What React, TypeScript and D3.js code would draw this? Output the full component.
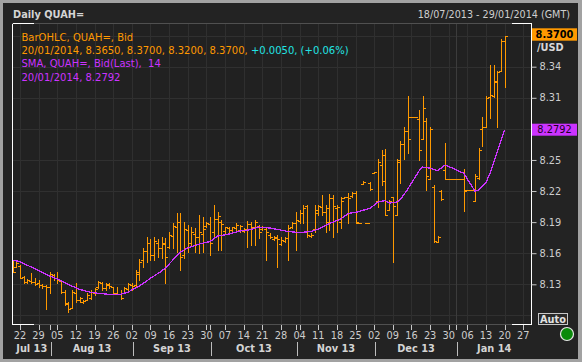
import { useEffect, useRef } from 'react';
import * as d3 from 'd3';

// trading calendar: 18/07/2013 - 29/01/2014 (weekdays)
const startDate = new Date(2013, 6, 18);
const endDate = new Date(2014, 0, 29);

const open = [
  8.1500, 8.1470, 8.1480, 8.1370, 8.1320, 8.1330, 8.1320, 8.1310, 8.1290, 8.1285,
  8.1270, 8.1390, 8.1360, 8.1330, 8.1230, 8.1110, 8.1070, 8.1220, 8.1150, 8.1130,
  8.1150, 8.1170, 8.1220, 8.1270, 8.1310, 8.1260, 8.1290, 8.1270, 8.1220, 8.1210,
  8.1220, 8.1250, 8.1290, 8.1290, 8.1400, 8.1530, 8.1620, 8.1700, 8.1580, 8.1700,
  8.1650, 8.1690, 8.1660, 8.1770, 8.1850, 8.1900, 8.1580, 8.1820, 8.1700, 8.1790,
  8.1760, 8.1790, 8.1860, 8.1880, 8.1800, 8.1930, 8.1900, 8.1810, 8.1840, 8.1820,
  8.1840, 8.1820, 8.1810, 8.1830, 8.1880, 8.1850, 8.1860, 8.1830, 8.1830, 8.1780,
  8.1740, 8.1760, 8.1690, 8.1720, 8.1750, 8.1850, 8.1890, 8.1910, 8.1990, 8.2060,
  8.1770, 8.1830, 8.1990, 8.2050, 8.2000, 8.1900, 8.2130, 8.2040, 8.1900, 8.2130,
  8.2140, 8.2150, 8.2180, 8.1894, 8.2270, 8.1894, 8.2280, 8.2375, 8.2100, 8.2450,
  8.2550, 8.2020, 8.2140, 8.1970, 8.2500, 8.2650, 8.2780, 8.2911, 8.2911, 8.2900,
  8.2700, 8.2880, 8.2320, 8.2240, 8.1711, 8.2200, 8.2400, 8.2313, 8.2313, 8.2313,
  8.2313, 8.2313, 8.2209, 8.2209, 8.2106, 8.2330, 8.2800, 8.2814, 8.3110, 8.3120,
  8.3250, 8.3358, 8.3650,
];

const high = [
  8.1527, 8.1518, 8.1483, 8.1380, 8.1348, 8.1406, 8.1364, 8.1341, 8.1300, 8.1290,
  8.1422, 8.1399, 8.1422, 8.1341, 8.1245, 8.1132, 8.1245, 8.1310, 8.1180, 8.1149,
  8.1213, 8.1245, 8.1261, 8.1332, 8.1325, 8.1309, 8.1309, 8.1276, 8.1276, 8.1245,
  8.1271, 8.1315, 8.1309, 8.1438, 8.1544, 8.1647, 8.1753, 8.1734, 8.1753, 8.1734,
  8.1759, 8.1743, 8.1807, 8.1888, 8.1990, 8.1990, 8.1903, 8.1872, 8.1855, 8.1840,
  8.1968, 8.1952, 8.1903, 8.1952, 8.2065, 8.2000, 8.1920, 8.1855, 8.1855, 8.1855,
  8.1888, 8.1872, 8.1840, 8.1910, 8.1903, 8.1920, 8.1872, 8.1862, 8.1840, 8.1792,
  8.1766, 8.1775, 8.1759, 8.1759, 8.1872, 8.1903, 8.2000, 8.2017, 8.2065, 8.2065,
  8.1792, 8.2065, 8.2065, 8.2161, 8.2065, 8.2168, 8.2161, 8.2065, 8.2145, 8.2145,
  8.2183, 8.2193, 8.2200, 8.1894, 8.2296, 8.1894, 8.2289, 8.2386, 8.2513, 8.2595,
  8.2602, 8.2113, 8.2145, 8.2506, 8.2685, 8.2814, 8.3116, 8.2911, 8.2911, 8.2981,
  8.3116, 8.2901, 8.2820, 8.2258, 8.1766, 8.2209, 8.2660, 8.2313, 8.2313, 8.2313,
  8.2313, 8.2409, 8.2209, 8.2209, 8.2361, 8.2612, 8.2911, 8.3116, 8.3415, 8.3415,
  8.3358, 8.3666, 8.3700,
];

const low = [
  8.1415, 8.1464, 8.1358, 8.1315, 8.1315, 8.1310, 8.1293, 8.1277, 8.1267, 8.1059,
  8.1213, 8.1341, 8.1310, 8.1213, 8.1100, 8.1036, 8.1068, 8.1132, 8.1132, 8.1117,
  8.1149, 8.1158, 8.1197, 8.1261, 8.1245, 8.1245, 8.1261, 8.1203, 8.1203, 8.1158,
  8.1213, 8.1228, 8.1245, 8.1277, 8.1341, 8.1469, 8.1518, 8.1534, 8.1534, 8.1560,
  8.1550, 8.1309, 8.1647, 8.1647, 8.1614, 8.1438, 8.1550, 8.1614, 8.1669, 8.1614,
  8.1605, 8.1614, 8.1855, 8.1582, 8.1759, 8.1631, 8.1631, 8.1792, 8.1807, 8.1807,
  8.1814, 8.1807, 8.1807, 8.1662, 8.1679, 8.1679, 8.1743, 8.1824, 8.1534, 8.1743,
  8.1727, 8.1469, 8.1679, 8.1711, 8.1534, 8.1840, 8.1631, 8.1888, 8.1888, 8.1759,
  8.1759, 8.1807, 8.1968, 8.1968, 8.1807, 8.1823, 8.1759, 8.1807, 8.1840, 8.2129,
  8.1894, 8.2145, 8.1894, 8.1894, 8.2267, 8.1894, 8.2209, 8.2370, 8.2045, 8.2258,
  8.1968, 8.2017, 8.1515, 8.1968, 8.2274, 8.2506, 8.2563, 8.2911, 8.2911, 8.2499,
  8.2708, 8.2209, 8.2313, 8.1711, 8.1711, 8.2113, 8.2313, 8.2313, 8.2313, 8.2313,
  8.2313, 8.2010, 8.2209, 8.2209, 8.2106, 8.2313, 8.2637, 8.2814, 8.2907, 8.3110,
  8.2814, 8.3358, 8.3200,
];

const close = [
  8.1420, 8.1510, 8.1365, 8.1320, 8.1340, 8.1320, 8.1300, 8.1290, 8.1280, 8.1270,
  8.1400, 8.1360, 8.1340, 8.1230, 8.1120, 8.1060, 8.1230, 8.1150, 8.1170, 8.1140,
  8.1200, 8.1230, 8.1250, 8.1320, 8.1260, 8.1300, 8.1280, 8.1220, 8.1210, 8.1170,
  8.1260, 8.1300, 8.1280, 8.1420, 8.1520, 8.1620, 8.1700, 8.1580, 8.1720, 8.1650,
  8.1700, 8.1560, 8.1780, 8.1860, 8.1900, 8.1560, 8.1830, 8.1700, 8.1800, 8.1760,
  8.1800, 8.1830, 8.1890, 8.1700, 8.1930, 8.1960, 8.1880, 8.1850, 8.1820, 8.1850,
  8.1870, 8.1860, 8.1830, 8.1880, 8.1850, 8.1900, 8.1800, 8.1850, 8.1800, 8.1760,
  8.1750, 8.1740, 8.1730, 8.1750, 8.1840, 8.1890, 8.1920, 8.1990, 8.2040, 8.1780,
  8.1780, 8.2020, 8.2060, 8.2000, 8.2040, 8.2130, 8.2060, 8.2050, 8.2100, 8.2140,
  8.2130, 8.2180, 8.1900, 8.1894, 8.2290, 8.1894, 8.2220, 8.2385, 8.2480, 8.2300,
  8.1970, 8.2100, 8.2060, 8.2480, 8.2650, 8.2780, 8.2700, 8.2911, 8.2911, 8.2600,
  8.3000, 8.2350, 8.2800, 8.1720, 8.1760, 8.2120, 8.2313, 8.2313, 8.2313, 8.2313,
  8.2313, 8.2200, 8.2209, 8.2209, 8.2350, 8.2600, 8.2814, 8.3100, 8.3130, 8.3260,
  8.3350, 8.3650, 8.3700,
];

// SMA(14) of the close, as drawn
const sma = [
  8.1534, 8.1526, 8.1518, 8.1500, 8.1484, 8.1467, 8.1450, 8.1433, 8.1415, 8.1397,
  8.1380, 8.1365, 8.1351, 8.1336, 8.1317, 8.1298, 8.1282, 8.1267, 8.1251, 8.1242,
  8.1232, 8.1222, 8.1218, 8.1213, 8.1210, 8.1206, 8.1203, 8.1203, 8.1203, 8.1203,
  8.1214, 8.1225, 8.1245, 8.1264, 8.1283, 8.1308, 8.1332, 8.1358, 8.1381, 8.1405,
  8.1428, 8.1457, 8.1496, 8.1534, 8.1573, 8.1611, 8.1631, 8.1650, 8.1662, 8.1676,
  8.1688, 8.1696, 8.1705, 8.1713, 8.1739, 8.1766, 8.1772, 8.1778, 8.1785, 8.1795,
  8.1804, 8.1814, 8.1819, 8.1823, 8.1828, 8.1840, 8.1852, 8.1849, 8.1846, 8.1843,
  8.1836, 8.1830, 8.1823, 8.1816, 8.1809, 8.1806, 8.1802, 8.1799, 8.1802, 8.1806,
  8.1809, 8.1821, 8.1833, 8.1850, 8.1869, 8.1886, 8.1901, 8.1915, 8.1930, 8.1956,
  8.1983, 8.1989, 8.1995, 8.2002, 8.2014, 8.2024, 8.2036, 8.2065, 8.2094, 8.2101,
  8.2108, 8.2084, 8.2089, 8.2094, 8.2118, 8.2168, 8.2219, 8.2277, 8.2335, 8.2393,
  8.2431, 8.2426, 8.2421, 8.2409, 8.2397, 8.2423, 8.2450, 8.2436, 8.2421, 8.2403,
  8.2386, 8.2373, 8.2315, 8.2258, 8.2200, 8.2209, 8.2248, 8.2286, 8.2364, 8.2470,
  8.2576, 8.2684, 8.2792,
];

const gridTicks = [8.10, 8.13, 8.16, 8.19, 8.22, 8.25, 8.28, 8.31, 8.34, 8.37];
const labelTicks = [8.13, 8.16, 8.19, 8.22, 8.25, 8.31, 8.34];
const monthLabels = ['Jul 13', 'Aug 13', 'Sep 13', 'Oct 13', 'Nov 13', 'Dec 13', 'Jan 14'];

const FONT = '"DejaVu Sans", Verdana, sans-serif';
const ORANGE = '#ff9900';
const PURPLE = '#cc33ff';

export default function App() {
  const svgRef = useRef<SVGSVGElement>(null);

  useEffect(() => {
    if (!svgRef.current) return;
    const svg = d3.select(svgRef.current);
    svg.selectAll('*').remove();

    const W = 582, H = 362;
    const left = 12.5, right = 531.5, top = 23.5, bottom = 324.5;

    const days = d3.timeDay
      .range(startDate, d3.timeDay.offset(endDate, 1))
      .filter(d => d.getDay() !== 0 && d.getDay() !== 6);

    const x = d3.scaleLinear().domain([0, days.length - 1]).range([12.5, 530.8]);
    const y = d3.scaleLinear().domain([8.13, 8.34]).range([284.3, 66.7]);
    const px = (i: number) => Math.round(x(i)) + 0.5;
    const py = (v: number) => Math.round(y(v)) + 0.5;

    // frame
    svg.append('rect').attr('width', W).attr('height', H).attr('fill', '#a2a2a2');
    svg.append('rect').attr('x', 3).attr('y', 3).attr('width', W - 7).attr('height', H - 6).attr('fill', '#232323');

    svg.append('text').attr('x', 13).attr('y', 18).attr('fill', '#d4d4d4')
      .style('font', `bold 9.8px ${FONT}`).text('Daily QUAH=');
    svg.append('text').attr('x', 570).attr('y', 18).attr('text-anchor', 'end').attr('fill', '#cfcfcf')
      .style('font', `9.6px ${FONT}`).text('18/07/2013 - 29/01/2014 (GMT)');

    // plot area
    svg.append('rect').attr('x', left).attr('y', top).attr('width', right - left).attr('height', bottom - top)
      .attr('fill', '#212121');

    const grid = svg.append('g').attr('shape-rendering', 'crispEdges');
    grid.selectAll('line.h').data(gridTicks).join('line')
      .attr('x1', left).attr('x2', right)
      .attr('y1', d => py(d)).attr('y2', d => py(d))
      .attr('stroke', '#303030');

    const mondays = days.map((d, i) => ({ d, i })).filter(o => o.d.getDay() === 1);
    const monthStarts = days.map((d, i) => ({ d, i }))
      .filter(o => o.i > 0 && o.d.getMonth() !== days[o.i - 1].getMonth());

    grid.selectAll('line.v').data(mondays).join('line')
      .attr('x1', o => px(o.i)).attr('x2', o => px(o.i))
      .attr('y1', top).attr('y2', bottom)
      .attr('stroke', '#2f2f2f');
    grid.selectAll('line.m').data(monthStarts.filter(o => o.d.getMonth() === 0)).join('line')
      .attr('x1', o => px(o.i)).attr('x2', o => px(o.i))
      .attr('y1', top).attr('y2', bottom)
      .attr('stroke', '#3c3c3c');

    // legend
    const fmt = d3.format('.4f');
    const n = close.length - 1;
    const lastDate = d3.timeFormat('%d/%m/%Y')(days[n]);
    const chg = close[n] - close[n - 1];
    const pct = (chg / close[n - 1]) * 100;
    const leg = svg.append('g').style('font', `10px ${FONT}`);
    leg.append('text').attr('x', 21.5).attr('y', 40.5).attr('fill', ORANGE).text('BarOHLC, QUAH=, Bid');
    const l2 = leg.append('text').attr('x', 21.5).attr('y', 54);
    l2.append('tspan').attr('fill', ORANGE)
      .text(`${lastDate}, ${fmt(open[n])}, ${fmt(high[n])}, ${fmt(low[n])}, ${fmt(close[n])}, `);
    l2.append('tspan').attr('fill', '#22e4e4')
      .text(`+${fmt(chg)}, (+${d3.format('.2f')(pct)}%)`);
    leg.append('text').attr('x', 21.5).attr('y', 67.3).attr('fill', PURPLE)
      .text('SMA, QUAH=, Bid(Last),\u00a0\u00a014');
    leg.append('text').attr('x', 21.5).attr('y', 80.7).attr('fill', PURPLE)
      .text(`${lastDate}, ${fmt(sma[n])}`);

    // data
    const clipId = 'plot-clip';
    svg.append('clipPath').attr('id', clipId).append('rect')
      .attr('x', left).attr('y', top).attr('width', right - left).attr('height', bottom - top);
    const plot = svg.append('g').attr('clip-path', `url(#${clipId})`).attr('shape-rendering', 'crispEdges');

    const bars = plot.selectAll('g.bar').data(close.map((c, i) => i)).join('g')
      .attr('stroke', ORANGE).attr('stroke-width', 1);
    bars.append('line')
      .attr('x1', i => px(i)).attr('x2', i => px(i))
      .attr('y1', i => py(high[i]) - 0.5).attr('y2', i => py(low[i]) + 0.5);
    bars.append('line')
      .attr('x1', i => px(i) - 2.5).attr('x2', i => px(i))
      .attr('y1', i => py(open[i])).attr('y2', i => py(open[i]));
    bars.append('line')
      .attr('x1', i => px(i)).attr('x2', i => px(i) + 2.5)
      .attr('y1', i => py(close[i])).attr('y2', i => py(close[i]));

    const line = d3.line<number>().x((d, i) => x(i)).y(d => y(d));
    plot.append('path').datum(sma)
      .attr('fill', 'none').attr('stroke', PURPLE).attr('stroke-width', 1.3)
      .attr('d', line);

    // plot border
    const border = svg.append('g').attr('shape-rendering', 'crispEdges');
    border.append('rect').attr('x', left).attr('y', top).attr('width', right - left).attr('height', bottom - top)
      .attr('fill', 'none').attr('stroke', '#505050');
    border.append('line').attr('x1', left).attr('x2', left).attr('y1', top).attr('y2', bottom).attr('stroke', '#fff');
    border.append('line').attr('x1', right).attr('x2', right).attr('y1', top).attr('y2', bottom).attr('stroke', '#fff');
    [top, bottom].forEach(yy => {
      border.append('line').attr('x1', left).attr('x2', left + 21).attr('y1', yy).attr('y2', yy).attr('stroke', '#fff');
      border.append('line').attr('x1', right - 20).attr('x2', right).attr('y1', yy).attr('y2', yy).attr('stroke', '#fff');
    });

    // y axis
    const yAxis = svg.append('g').attr('transform', `translate(${right},0)`)
      .call(d3.axisRight(y).tickValues(labelTicks).tickSize(5).tickPadding(3).tickFormat(d3.format('.2f')));
    yAxis.select('.domain').remove();
    yAxis.selectAll('line').attr('stroke', '#c8c8c8');
    yAxis.selectAll('text').attr('fill', '#cdcdcd').style('font', `9.8px ${FONT}`);

    // last value boxes
    svg.append('rect').attr('x', 532).attr('y', 28.3).attr('width', 45).attr('height', 12.4).attr('fill', ORANGE);
    svg.append('text').attr('x', 554.5).attr('y', 38.3).attr('text-anchor', 'middle').attr('fill', '#000')
      .style('font', `bold 9.8px ${FONT}`).text(fmt(close[n]));
    svg.append('text').attr('x', 537).attr('y', 50.7).attr('fill', '#d8d8d8')
      .style('font', `bold 9.8px ${FONT}`).text('/USD');
    svg.append('rect').attr('x', 532).attr('y', y(sma[n]) - 6).attr('width', 45).attr('height', 12).attr('fill', PURPLE);
    svg.append('text').attr('x', 554.5).attr('y', y(sma[n]) + 3.6).attr('text-anchor', 'middle').attr('fill', '#1c0024')
      .style('font', `9.8px ${FONT}`).text(fmt(sma[n]));

    // x axis
    const xAxis = svg.append('g').attr('shape-rendering', 'crispEdges');
    xAxis.selectAll('line.t').data([...mondays, ...monthStarts]).join('line')
      .attr('x1', o => px(o.i)).attr('x2', o => px(o.i))
      .attr('y1', bottom).attr('y2', bottom + 5)
      .attr('stroke', '#c8c8c8');
    svg.append('g').selectAll('text').data(mondays).join('text')
      .attr('x', o => x(o.i)).attr('y', 338.5).attr('text-anchor', 'middle')
      .attr('fill', '#cdcdcd').style('font', `9.8px ${FONT}`)
      .text(o => d3.timeFormat('%d')(o.d));

    const seps = [left, ...monthStarts.map(o => px(o.i) + 0.5), right];
    xAxis.selectAll('line.s').data(monthStarts).join('line')
      .attr('x1', o => px(o.i) + 0.5).attr('x2', o => px(o.i) + 0.5)
      .attr('y1', 342).attr('y2', 356)
      .attr('stroke', '#bdbdbd');
    svg.append('g').selectAll('text').data(monthLabels).join('text')
      .attr('x', (d, i) => (seps[i] + seps[i + 1]) / 2).attr('y', 351.5).attr('text-anchor', 'middle')
      .attr('fill', '#d4d4d4').style('font', `bold 9.8px ${FONT}`)
      .text(d => d);

    // Auto button and status light
    svg.append('rect').attr('x', 538.5).attr('y', 313.5).attr('width', 29).attr('height', 11)
      .attr('fill', '#2a2a2a').attr('stroke', '#c8c8c8').attr('shape-rendering', 'crispEdges');
    svg.append('text').attr('x', 553).attr('y', 322.5).attr('text-anchor', 'middle').attr('fill', '#e2e2e2')
      .style('font', `bold 9.8px ${FONT}`).text('Auto');
    svg.append('circle').attr('cx', 567).attr('cy', 334).attr('r', 6.5)
      .attr('fill', '#0b8a0b').attr('stroke', '#e8e8e8').attr('stroke-width', 1.2);
  }, []);

  return (
    <svg ref={svgRef} width={582} height={362}
      style={{ position: 'absolute', left: 0, top: 0, display: 'block' }} />
  );
}
